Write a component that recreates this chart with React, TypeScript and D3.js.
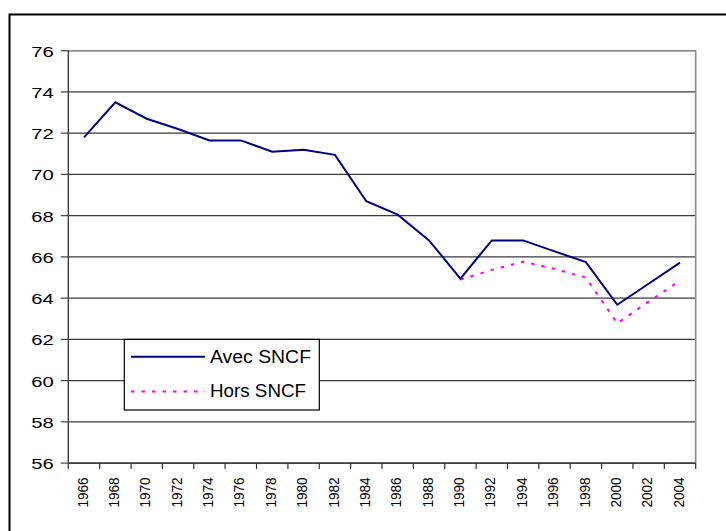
import React from "react";
import * as d3 from "d3";

const years = ["1966","1968","1970","1972","1974","1976","1978","1980","1982","1984","1986","1988","1990","1992","1994","1996","1998","2000","2002","2004"];
const avecSNCF = [71.8, 73.5, 72.7, 72.2, 71.65, 71.65, 71.1, 71.2, 70.95, 68.7, 68.05, 66.8, 64.95, 66.8, 66.8, 66.27, 65.75, 63.68, 64.7, 65.72];
const horsSNCF: (number | null)[] = [null, null, null, null, null, null, null, null, null, null, null, null, 64.9, 65.37, 65.77, 65.42, 65.0, 62.78, 63.83, 64.85];
const yTicks = [56, 58, 60, 62, 64, 66, 68, 70, 72, 74, 76];
const legendLabels = ["Avec SNCF", "Hors SNCF"];

const W = 726, H = 531;
const left = 68.3, right = 695.7, top = 50.7, bottom = 463.1;
const FONT = "'Liberation Sans', Arial, sans-serif";

export default function App() {
  const x = d3.scaleBand<string>().domain(years).range([left, right]).padding(0);
  const y = d3.scaleLinear().domain([56, 76]).range([bottom, top]);
  const cx = (i: number) => (x(years[i]) as number) + x.bandwidth() / 2;

  const lineAvec = d3.line<number>().x((_, i) => cx(i)).y((d) => y(d));
  const lineHors = d3
    .line<number | null>()
    .defined((d) => d !== null)
    .x((_, i) => cx(i))
    .y((d) => y(d as number));

  const boundaries = years.map((yr) => x(yr) as number).concat([right]);

  // legend
  const lgX = 124.3, lgY = 339.4, lgW = 195, lgH = 70.6;

  return (
    <svg
      width={W}
      height={H}
      style={{ position: "absolute", left: 0, top: 0, background: "#fff", display: "block" }}
      fontFamily={FONT}
    >
      <rect x={0} y={0} width={W} height={H} fill="#fff" />
      {/* outer chart border */}
      <rect x={9.5} y={14.5} width={W + 20} height={H + 20} fill="none" stroke="#000" strokeWidth={2} />

      {/* gridlines */}
      {yTicks.map((t) => (
        <line key={"g" + t} x1={left} x2={right} y1={y(t)} y2={y(t)} stroke="#3a3a3a" strokeWidth={1.2} />
      ))}
      {/* plot area border (right side gray) */}
      <line x1={right} x2={right} y1={top} y2={bottom} stroke="#8c8c8c" strokeWidth={1.6} />
      <line x1={left} x2={right} y1={top} y2={top} stroke="#8c8c8c" strokeWidth={1.4} />

      {/* y axis */}
      <line x1={left} x2={left} y1={top} y2={bottom} stroke="#404040" strokeWidth={1.4} />
      {yTicks.map((t) => (
        <g key={"yt" + t}>
          <line x1={left - 7.5} x2={left} y1={y(t)} y2={y(t)} stroke="#404040" strokeWidth={1.2} />
          <text
            x={53.7}
            y={y(t) + 6}
            textAnchor="end"
            fontSize={15.5}
            textLength={22.5}
            lengthAdjust="spacingAndGlyphs"
            fill="#000"
          >
            {t}
          </text>
        </g>
      ))}

      {/* x axis */}
      <line x1={left} x2={right} y1={bottom} y2={bottom} stroke="#303030" strokeWidth={1.4} />
      {boundaries.map((b, i) => (
        <line key={"xt" + i} x1={b} x2={b} y1={bottom} y2={bottom + 6} stroke="#303030" strokeWidth={1.2} />
      ))}
      {years.map((yr, i) => (
        <text
          key={"xl" + yr}
          transform={`translate(${cx(i) + 3.6},${477.3}) rotate(-90)`}
          textAnchor="end"
          fontSize={14.5}
          textLength={30.3}
          lengthAdjust="spacingAndGlyphs"
          fill="#000"
        >
          {yr}
        </text>
      ))}

      {/* series */}
      <path d={lineHors(horsSNCF) || ""} fill="none" stroke="#ff00ff" strokeWidth={2} strokeDasharray="3.5,7" />
      <path d={lineAvec(avecSNCF) || ""} fill="none" stroke="#000080" strokeWidth={2} strokeLinejoin="miter" />

      {/* legend */}
      <rect x={lgX} y={lgY} width={lgW} height={lgH} fill="#fff" stroke="#000" strokeWidth={1.2} />
      <line x1={131} x2={205} y1={356.7} y2={356.7} stroke="#000080" strokeWidth={2} />
      <line x1={131} x2={205} y1={391.5} y2={391.5} stroke="#ff00ff" strokeWidth={2} strokeDasharray="3.5,7" />
      <text x={210} y={362.5} fontSize={18} textLength={101} lengthAdjust="spacingAndGlyphs" fill="#000">
        {legendLabels[0]}
      </text>
      <text x={210} y={397} fontSize={18} textLength={96} lengthAdjust="spacingAndGlyphs" fill="#000">
        {legendLabels[1]}
      </text>
    </svg>
  );
}
